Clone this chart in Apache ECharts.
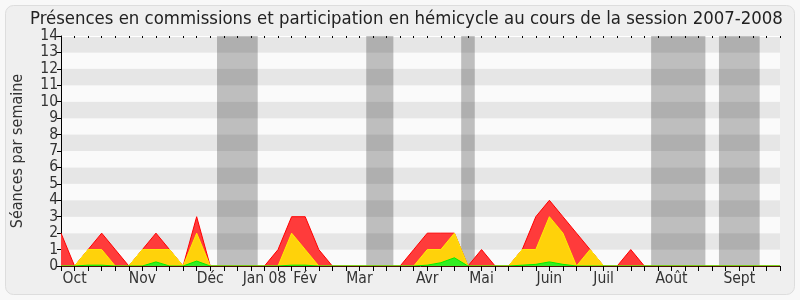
<!DOCTYPE html>
<html><head><meta charset="utf-8">
<script src="https://cdn.jsdelivr.net/npm/echarts@6/dist/echarts.min.js"></script>
<style>html,body{margin:0;padding:0;background:#fff}#c{width:800px;height:300px}</style>
</head><body><div id="c"></div><script>
// weekly values, index 0 = first week of the session
const totalSeances = [2,0,1,2,1,0,1,2,1,0,3,0,0,0,0,0,1,3,3,1,0,0,0,0,0,0,1,2,2,2,0,1,0,0,1,3,4,3,2,1,0,0,1,0,0,0,0,0,0,0,0,0,0,0];
const commissions  = [0,0,1,1,0,0,1,1,1,0,2,0,0,0,0,0,0,2,1,0,0,0,0,0,0,0,0,1,1,2,0,0,0,0,1,1,3,2,0,1,0,0,0,0,0,0,0,0,0,0,0,0,0,0];
const hemicycle    = [0,0,0.05,0.05,0,0,0,0.25,0,0,0.3,0,0,0,0,0,0,0.05,0.05,0,0,0,0,0,0,0,0,0.05,0.2,0.5,0,0,0,0,0.05,0.1,0.25,0.1,0,0,0,0,0,0,0,0,0,0,0,0,0,0,0,0];
const monthNames = ['Oct','Nov','Déc','Jan 08','Fév','Mar','Avr','Mai','Juin','Juil','Août','Sept'];
const monthWeeks = [1,6,11,15,18,22,27,31,36,40,45,50];
const vacStart = [11.5,22.5,29.5,43.5,48.5];
const vacEnd   = [14.5,24.5,30.5,47.5,51.5];
const nWeeks = totalSeances.length;

const FONT = "'DejaVu Sans Condensed','DejaVu Sans',sans-serif";
const toPts = arr => arr.map((v,i)=>[i,v]);
const monthMap = {};
monthWeeks.forEach((w,i)=>{monthMap[w]=monthNames[i];});

const chart = echarts.init(document.getElementById('c'));
chart.setOption({
  backgroundColor:'#f8f8f8',
  animation:false,
  graphic:[{type:'rect',z:-10,shape:{x:5.5,y:5.5,width:789,height:289,r:8},style:{fill:'#efefef',stroke:'#dddddd',lineWidth:1}}],
  title:{text:'Présences en commissions et participation en hémicycle au cours de la session 2007-2008',
    left:25,top:5,textStyle:{fontFamily:FONT,fontSize:18.4,fontWeight:'normal',color:'#222'}},
  grid:{left:61,right:20,top:36,bottom:34},
  xAxis:[{type:'value',min:0,max:nWeeks-1,interval:1,z:10,
    axisLine:{show:true,lineStyle:{color:'#4a1008'}},
    axisTick:{show:true,length:5,lineStyle:{color:'#000'}},
    axisLabel:{fontFamily:FONT,fontSize:15.5,color:'#333',margin:5,showMinLabel:true,showMaxLabel:true,
      formatter:v=>monthMap[v]||''},
    splitLine:{show:false}},
   {type:'value',position:'top',min:0,max:nWeeks-1,interval:1,
    axisLine:{show:true,lineStyle:{color:'#ffffff'}},
    axisTick:{show:true,inside:true,length:2,lineStyle:{color:'#000'}},
    axisLabel:{show:false},splitLine:{show:false}}],
  yAxis:{type:'value',min:0,max:14,interval:1,name:'Séances par semaine',nameLocation:'middle',nameGap:35,
    nameTextStyle:{fontFamily:FONT,fontSize:16,color:'#333'},
    axisLine:{show:true,lineStyle:{color:'#000'}},
    axisTick:{show:true,length:4,lineStyle:{color:'#000'}},
    axisLabel:{fontFamily:FONT,fontSize:15.5,color:'#333',margin:3},
    splitLine:{show:false},
    splitArea:{show:true,areaStyle:{color:['#fafafa','#e6e6e6']}}},
  series:[
    {type:'line',data:[],z:1,markArea:{silent:true,itemStyle:{color:'rgba(0,0,0,0.24)'},
      data:vacStart.map((s,i)=>[{xAxis:s},{xAxis:vacEnd[i]}])}},
    {type:'line',data:toPts(totalSeances),symbol:'none',z:2,lineStyle:{color:'#ff0000',width:1},areaStyle:{color:'#ff3b3b',opacity:1}},
    {type:'line',data:toPts(commissions),symbol:'none',z:3,lineStyle:{color:'#ffee00',width:1},areaStyle:{color:'#ffd20a',opacity:1}},
    {type:'line',data:toPts(hemicycle),symbol:'none',z:4,lineStyle:{color:'#00ee00',width:1},areaStyle:{color:'#33ee22',opacity:1}}
  ]
});
</script></body></html>
